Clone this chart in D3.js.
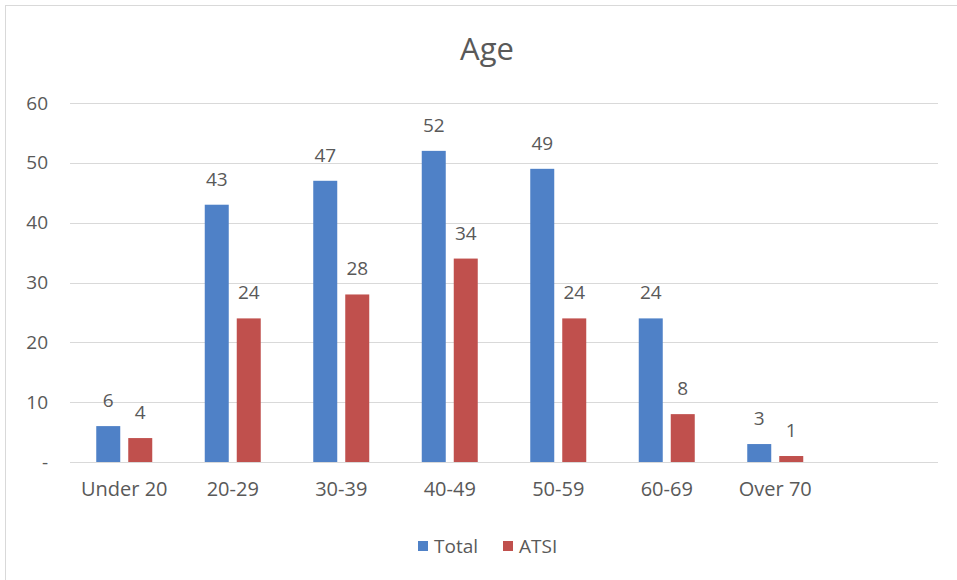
<!DOCTYPE html>
<html>
<head>
<meta charset="utf-8">
<script src="https://cdn.jsdelivr.net/npm/d3@7"></script>
<style>
    body { margin: 0; background: #fff; }
    text { font-family: "Open Sans", "Noto Sans", sans-serif; fill: #595959; }
</style>
</head>
<body>
<div id="chart"></div>
<script>
const categories = ['Under 20', '20-29', '30-39', '40-49', '50-59', '60-69', 'Over 70'];
const totalValues = [6, 43, 47, 52, 49, 24, 3];
const atsiValues = [4, 24, 28, 34, 24, 8, 1];
const seriesNames = ['Total', 'ATSI'];
const seriesColors = ['#4f81c7', '#c0504d'];
const yTicks = [0, 10, 20, 30, 40, 50, 60];

const width = 957;
const height = 580;
const margins = {top: 103, right: 19, bottom: 118, left: 70};

const svg = d3.select('#chart')
    .append('svg')
    .attr('width', width)
    .attr('height', height);

// chart area border (only top and left fall inside the picture)
svg.append('rect')
    .attr('x', 5.5)
    .attr('y', 5.5)
    .attr('width', width)
    .attr('height', height)
    .attr('fill', 'none')
    .attr('stroke', '#d9d9d9');

const graphWidth = width - (margins.left + margins.right);
const graphHeight = height - (margins.top + margins.bottom);

// the Excel chart leaves one blank slot at the right end
const xScale = d3.scaleBand()
    .domain(categories.concat(['']))
    .range([margins.left, margins.left + graphWidth]);

const yScale = d3.scaleLinear()
    .domain([0, 60])
    .range([margins.top + graphHeight, margins.top]);

// gridlines
svg.append('g')
    .selectAll('line')
    .data(yTicks)
    .enter()
    .append('line')
    .attr('x1', margins.left)
    .attr('x2', margins.left + graphWidth)
    .attr('y1', d => Math.round(yScale(d)) + 0.5)
    .attr('y2', d => Math.round(yScale(d)) + 0.5)
    .attr('stroke', '#d9d9d9')
    .attr('stroke-width', 1);

// y axis labels
const yAxis = svg.append('g')
    .attr('transform', `translate(${margins.left - 22}, 0)`)
    .call(d3.axisLeft(yScale).tickValues(yTicks).tickSize(0).tickFormat(d => d === 0 ? '-' : d));
yAxis.select('.domain').remove();
yAxis.selectAll('text')
    .attr('x', 0)
    .style('font-size', '19px')
    .style('font-family', '"Open Sans", sans-serif')
    .attr('fill', '#595959');

// x axis labels
const xAxis = svg.append('g')
    .attr('transform', `translate(0, ${margins.top + graphHeight})`)
    .call(d3.axisBottom(xScale).tickSize(0).tickValues(categories));
xAxis.select('.domain').remove();
xAxis.selectAll('text')
    .attr('y', 20)
    .style('font-size', '20px')
    .style('font-family', '"Open Sans", sans-serif')
    .attr('fill', '#595959');

const barWidth = 24;
const barGap = 8;
const series = [totalValues, atsiValues];

series.forEach((values, s) => {
    const offset = s === 0 ? -(barGap / 2 + barWidth) : barGap / 2;
    const g = svg.append('g');
    const data = categories.map((c, i) => ({category: c, value: values[i]}));

    g.selectAll('rect')
        .data(data)
        .enter()
        .append('rect')
        .attr('x', d => xScale(d.category) + xScale.bandwidth() / 2 + offset)
        .attr('y', d => yScale(d.value))
        .attr('width', barWidth)
        .attr('height', d => yScale(0) - yScale(d.value))
        .attr('fill', seriesColors[s]);

    g.selectAll('text')
        .data(data)
        .enter()
        .append('text')
        .attr('x', d => xScale(d.category) + xScale.bandwidth() / 2 + offset + barWidth / 2)
        .attr('y', d => yScale(d.value) - 19)
        .attr('text-anchor', 'middle')
        .style('font-size', '19px')
        .text(d => d.value);
});

// title
svg.append('text')
    .attr('x', 487)
    .attr('y', 60)
    .attr('text-anchor', 'middle')
    .style('font-size', '31px')
    .text('Age');

// legend
const legend = svg.append('g')
    .attr('transform', 'translate(418, 546)');
const legendX = [0, 85];
seriesNames.forEach((name, i) => {
    legend.append('rect')
        .attr('x', legendX[i])
        .attr('y', -5)
        .attr('width', 10)
        .attr('height', 10)
        .attr('fill', seriesColors[i]);
    legend.append('text')
        .attr('x', legendX[i] + 16)
        .attr('y', 7)
        .style('font-size', '19px')
        .text(name);
});
</script>
</body>
</html>
